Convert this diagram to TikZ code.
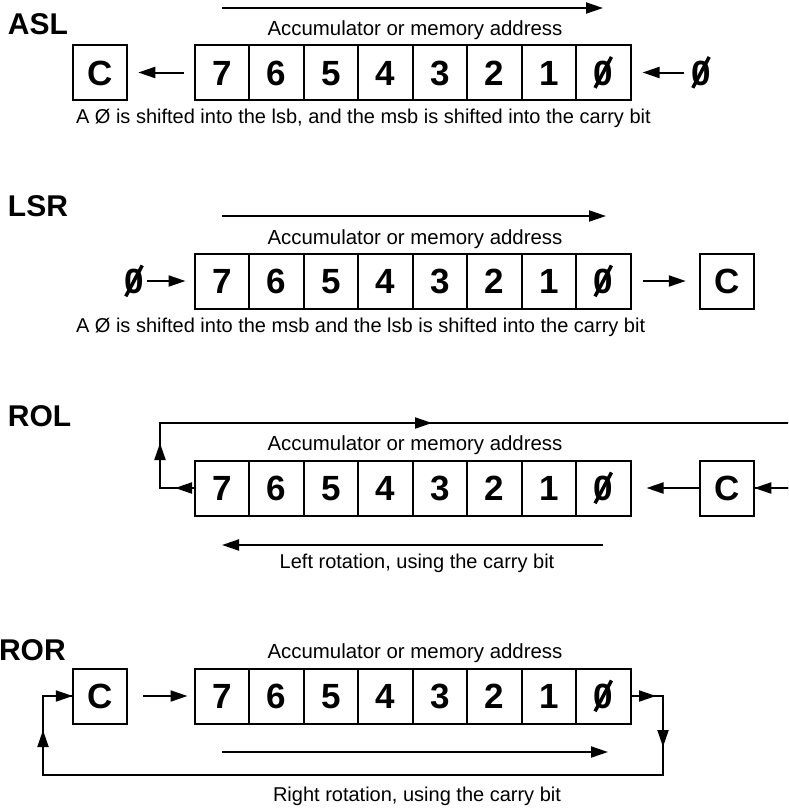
\documentclass[tikz,border=0pt]{standalone}
\usepackage{fontspec}
\setmainfont{Liberation Sans}
\newfontfamily\heavyfont{Liberation Sans Bold}
\usepackage{graphicx}
\usetikzlibrary{arrows.meta}

% slashed zero
\newcommand\slz{\ooalign{0\cr\hidewidth\raisebox{0.31em}{\rotatebox[origin=c]{62}{\rule{1.0em}{0.1em}}}\hidewidth\cr}}

% one 8-bit register: #1 name prefix, #2 vertical centre
\newcommand\bitrow[2]{%
  \foreach \b in {7,6,...,0}{%
    \node[cell] (#1\b) at ({221.75+54.5*(7-\b)},#2) {\ifnum\b=0 \slz\else\b\fi};
  }%
}

\begin{document}
\begin{tikzpicture}[x=1pt,y=-1pt,line width=2pt,
  cell/.style={draw,minimum width=54.5pt,minimum height=55pt,inner sep=0pt,outer sep=0pt,
    text height=25pt,text depth=0pt,font=\fontsize{35}{35}\heavyfont},
  bigz/.style={inner sep=0pt,outer sep=0pt,text height=25pt,text depth=0pt,
    font=\fontsize{35}{35}\heavyfont},
  title/.style={inner sep=0pt,font=\fontsize{30}{30}\heavyfont},
  lbl/.style={inner sep=0pt,font=\fontsize{20.4}{24}\selectfont},
  captxt/.style={inner sep=0pt,font=\fontsize{20}{24}\selectfont},
  arr/.style={-{Triangle[length=17pt,width=11pt]}}]
\useasboundingbox (0,0) rectangle (788,812);
\clip (0,0) rectangle (788,812);

% ---------------- ASL ----------------
\node[title,anchor=base west] (aslT) at (7,34) {ASL};
\coordinate (aslA1) at (222,8);
\coordinate (aslA2) at (603,8);
\draw[arr] (aslA1) -- (aslA2);
\node[lbl,anchor=base] (aslAcc) at (415,35) {Accumulator or memory address};
\bitrow{a}{72.5}
\node[cell] (aC) at (100,72.5) {C};
\draw[arr,shorten <=11pt,shorten >=11pt] (a7) -- (aC);
\node[bigz] (aZ) at (701,72.5) {\slz};
\draw[arr,shorten <=7pt,shorten >=12pt] (aZ) -- (a0);
\node[captxt,anchor=base west] (aslCap) at (75,123) {A Ø is shifted into the lsb, and the msb is shifted into the carry bit};

% ---------------- LSR ----------------
\node[title,anchor=base west] (lsrT) at (7,216) {LSR};
\coordinate (lsrA1) at (222,216);
\coordinate (lsrA2) at (606,216);
\draw[arr] (lsrA1) -- (lsrA2);
\node[lbl,anchor=base] (lsrAcc) at (415,244) {Accumulator or memory address};
\bitrow{l}{281}
\node[bigz] (lZ) at (134,281) {\slz};
\draw[arr,shorten <=3pt,shorten >=9pt] (lZ) -- (l7);
\node[cell] (lC) at (727,281) {C};
\draw[arr,shorten <=12pt,shorten >=14pt] (l0) -- (lC);
\node[captxt,anchor=base west] (lsrCap) at (75,332) {A Ø is shifted into the msb and the lsb is shifted into the carry bit};

% ---------------- ROL ----------------
\node[title,anchor=base west] (rolT) at (7,426) {ROL};
\node[lbl,anchor=base] (rolAcc) at (415,450) {Accumulator or memory address};
\bitrow{r}{488}
\node[cell] (rC) at (727,488) {C};
% carry loop: bit 7 out, round the top, back into C
\coordinate (rolL1) at (160,488);
\coordinate (rolL2) at (160,423);
\coordinate (rolR1) at (800,423);
\coordinate (rolR2) at (800,488);
\draw (r7.west) -- (rolL1) -- (rolL2) -- (rolR1) -- (rolR2) -- (rC.east);
\coordinate (rolH1) at (196,488);
\coordinate (rolH1t) at (175,488);
\draw[arr] (rolH1) -- (rolH1t);
\coordinate (rolH2) at (160,470);
\coordinate (rolH2t) at (160,443);
\draw[arr] (rolH2) -- (rolH2t);
\coordinate (rolH3) at (408,423);
\coordinate (rolH3t) at (432,423);
\draw[arr] (rolH3) -- (rolH3t);
\coordinate (rolH4) at (790,488);
\draw[arr] (rolH4) -- (rC.east);
\draw[arr,shorten >=16pt] (rC.west) -- (r0.east);
\coordinate (rolB1) at (603,545);
\coordinate (rolB2) at (222,545);
\draw[arr] (rolB1) -- (rolB2);
\node[captxt,anchor=base] (rolCap) at (417,568) {Left rotation, using the carry bit};

% ---------------- ROR ----------------
\node[title,anchor=base west] (rorT) at (-2,660) {ROR};
\node[lbl,anchor=base] (rorAcc) at (415,658) {Accumulator or memory address};
\bitrow{o}{696}
\node[cell] (oC) at (100,696) {C};
\draw[arr,shorten <=16pt,shorten >=7pt] (oC.east) -- (o7.west);
% carry loop: bit 0 out, round the bottom, back into C
\coordinate (rorR1) at (663,696);
\coordinate (rorR2) at (663,775);
\coordinate (rorL2) at (43,775);
\coordinate (rorL1) at (43,696);
\draw (o0.east) -- (rorR1) -- (rorR2) -- (rorL2) -- (rorL1) -- (oC.west);
\coordinate (rorH1) at (632,696);
\coordinate (rorH1t) at (656,696);
\draw[arr] (rorH1) -- (rorH1t);
\coordinate (rorH2) at (663,725);
\coordinate (rorH2t) at (663,747);
\draw[arr] (rorH2) -- (rorH2t);
\coordinate (rorH3) at (43,752);
\coordinate (rorH3t) at (43,730);
\draw[arr] (rorH3) -- (rorH3t);
\coordinate (rorH4) at (50,696);
\draw[arr] (rorH4) -- (oC.west);
\coordinate (rorI1) at (222,752);
\coordinate (rorI2) at (608,752);
\draw[arr] (rorI1) -- (rorI2);
\node[captxt,anchor=base] (rorCap) at (417,801) {Right rotation, using the carry bit};
\end{tikzpicture}
\end{document}
